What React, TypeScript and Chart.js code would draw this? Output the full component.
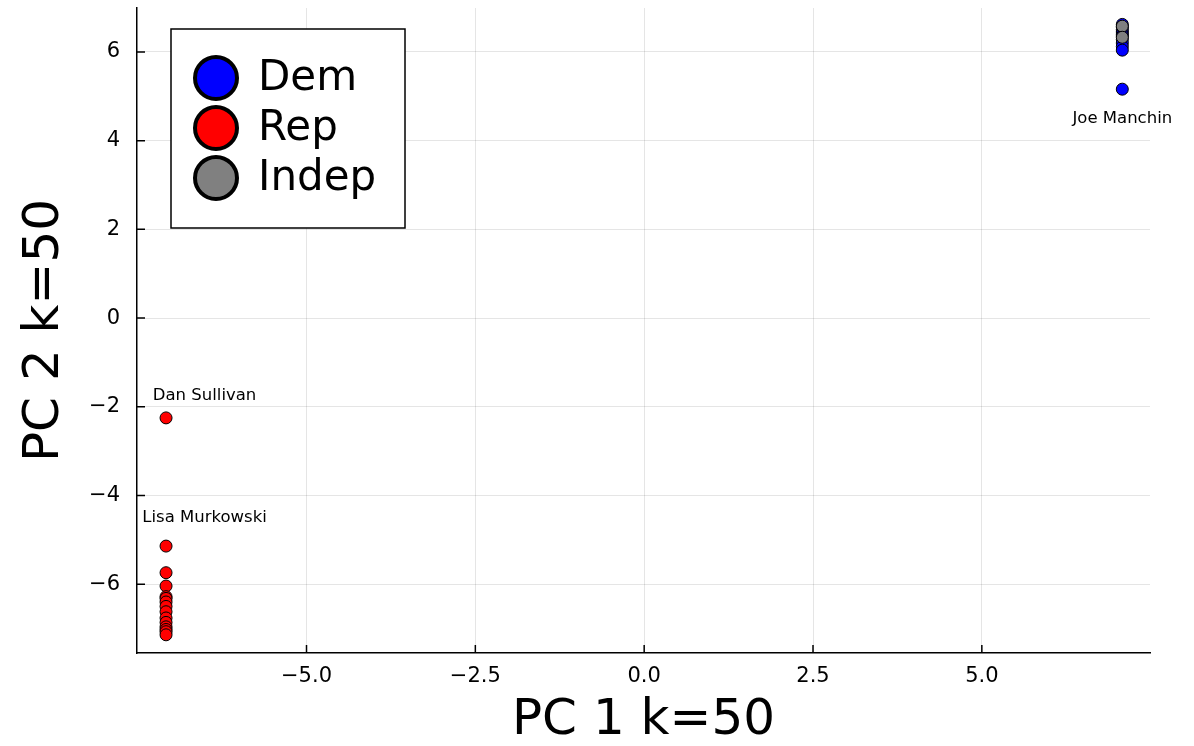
import React, { useEffect, useRef } from "react";
import { Chart, registerables } from "chart.js";

Chart.register(...registerables);

// ---- data ----
const seriesNames = ["Dem", "Rep", "Indep"];
const seriesColors = ["#0000ff", "#ff0000", "#808080"];

const demPC1 = [7.08, 7.08, 7.08, 7.08, 7.08, 7.08, 7.08, 7.08, 7.08, 7.08, 7.08];
const demPC2 = [6.62, 6.56, 6.5, 6.45, 6.4, 6.36, 6.28, 6.2, 6.12, 6.04, 5.16];

const repPC1 = [-7.08, -7.08, -7.08, -7.08, -7.08, -7.08, -7.08, -7.08, -7.08, -7.08, -7.08, -7.08, -7.08, -7.08, -7.08];
const repPC2 = [-2.25, -5.14, -5.74, -6.04, -6.28, -6.32, -6.4, -6.5, -6.62, -6.76, -6.86, -6.96, -7.02, -7.07, -7.14];

const indPC1 = [7.08, 7.08];
const indPC2 = [6.58, 6.33];

const annotationTexts = ["Joe Manchin", "Dan Sullivan", "Lisa Murkowski"];
const annotationX = [7.08, -6.51, -6.51];
const annotationY = [4.49, -1.76, -4.51];

const xTickValues = [-5, -2.5, 0, 2.5, 5];
const yTickValues = [-6, -4, -2, 0, 2, 4, 6];

const xTitle = "PC 1 k=50";
const yTitle = "PC 2 k=50";

const FONT = "DejaVu Sans";

const minus = (s: string) => s.replace("-", "\u2212");

const toPoints = (xs: number[], ys: number[]) => xs.map((x, i) => ({ x, y: ys[i] }));

const innerTicksPlugin = {
  id: "innerTicks",
  beforeDatasetsDraw(chart: any) {
    const { ctx, chartArea, scales } = chart;
    ctx.save();
    ctx.strokeStyle = "#000";
    ctx.lineWidth = 1.5;
    ctx.beginPath();
    for (const v of xTickValues) {
      const px = scales.x.getPixelForValue(v);
      ctx.moveTo(px, chartArea.bottom);
      ctx.lineTo(px, chartArea.bottom - 8);
    }
    for (const v of yTickValues) {
      const py = scales.y.getPixelForValue(v);
      ctx.moveTo(chartArea.left, py);
      ctx.lineTo(chartArea.left + 8, py);
    }
    ctx.stroke();
    ctx.restore();
  },
};

const annotationsPlugin = {
  id: "nameLabels",
  afterDatasetsDraw(chart: any) {
    const { ctx, scales } = chart;
    ctx.save();
    ctx.fillStyle = "#000";
    ctx.font = `16.5px "${FONT}"`;
    ctx.textAlign = "center";
    ctx.textBaseline = "middle";
    annotationTexts.forEach((t, i) => {
      ctx.fillText(t, scales.x.getPixelForValue(annotationX[i]), scales.y.getPixelForValue(annotationY[i]));
    });
    ctx.restore();
  },
};

const legendPlugin = {
  id: "boxLegend",
  afterDraw(chart: any) {
    const { ctx, chartArea } = chart;
    const left = chartArea.left + 34;
    const top = chartArea.top + 21;
    const w = 234;
    const h = 199;
    ctx.save();
    ctx.fillStyle = "#fff";
    ctx.fillRect(left, top, w, h);
    ctx.strokeStyle = "#000";
    ctx.lineWidth = 1.5;
    ctx.strokeRect(left, top, w, h);
    chart.data.datasets.forEach((ds: any, i: number) => {
      const cx = left + 45;
      const cy = top + 49 + i * 50;
      ctx.beginPath();
      ctx.arc(cx, cy, 21, 0, Math.PI * 2);
      ctx.fillStyle = ds.backgroundColor;
      ctx.fill();
      ctx.lineWidth = 4;
      ctx.strokeStyle = "#000";
      ctx.stroke();
      ctx.fillStyle = "#000";
      ctx.font = `42px "${FONT}"`;
      ctx.textAlign = "left";
      ctx.textBaseline = "middle";
      ctx.fillText(ds.label, left + 87, cy + 1);
    });
    ctx.restore();
  },
};

export default function App() {
  const canvasRef = useRef<HTMLCanvasElement | null>(null);

  useEffect(() => {
    document.body.style.margin = "0";
    const canvas = canvasRef.current;
    if (!canvas) return;
    const seriesData = [toPoints(demPC1, demPC2), toPoints(repPC1, repPC2), toPoints(indPC1, indPC2)];
    const orders = [3, 2, 1];
    const chart = new Chart(canvas, {
      type: "scatter",
      data: {
        datasets: seriesNames.map((name, i) => ({
          label: name,
          data: seriesData[i],
          backgroundColor: seriesColors[i],
          borderColor: "#000",
          borderWidth: 1,
          pointRadius: 6,
          pointHoverRadius: 6,
          order: orders[i],
        })),
      },
      options: {
        responsive: false,
        animation: false,
        devicePixelRatio: 1,
        layout: { padding: { top: 8, right: 44, left: 0, bottom: 0 } },
        plugins: {
          legend: { display: false },
          tooltip: { enabled: false },
        },
        scales: {
          x: {
            type: "linear",
            min: -7.51,
            max: 7.49,
            afterBuildTicks: (scale: any) => {
              scale.ticks = xTickValues.map((v) => ({ value: v }));
            },
            afterFit: (scale: any) => {
              scale.height = 93;
              scale.paddingLeft = 0;
              scale.paddingRight = 0;
              scale.paddingTop = 0;
              scale.paddingBottom = 0;
            },
            ticks: {
              color: "#000",
              font: { family: FONT, size: 21 },
              padding: 11,
              maxRotation: 0,
              autoSkip: false,
              callback: (v: any) => minus(Number(v).toFixed(1)),
            },
            grid: { color: "rgba(0,0,0,0.1)", lineWidth: 1, drawTicks: false },
            border: { display: true, color: "#000", width: 1.5 },
            title: {
              display: true,
              text: xTitle,
              color: "#000",
              font: { family: FONT, size: 50, lineHeight: 1 },
              padding: { top: 0, bottom: 0 },
            },
          },
          y: {
            type: "linear",
            min: -7.55,
            max: 6.99,
            afterBuildTicks: (scale: any) => {
              scale.ticks = yTickValues.map((v) => ({ value: v }));
            },
            afterFit: (scale: any) => {
              scale.width = 137;
              scale.paddingLeft = 0;
              scale.paddingRight = 0;
              scale.paddingTop = 0;
              scale.paddingBottom = 0;
            },
            ticks: {
              color: "#000",
              font: { family: FONT, size: 21 },
              padding: 17,
              autoSkip: false,
              callback: (v: any) => minus(String(Number(v))),
            },
            grid: { color: "rgba(0,0,0,0.1)", lineWidth: 1, drawTicks: false },
            border: { display: true, color: "#000", width: 1.5 },
            title: {
              display: true,
              text: yTitle,
              color: "#000",
              font: { family: FONT, size: 50, lineHeight: 1 },
              padding: { top: 20, bottom: 0 },
            },
          },
        },
      },
      plugins: [innerTicksPlugin, annotationsPlugin, legendPlugin],
    });
    return () => chart.destroy();
  }, []);

  return (
    <div style={{ position: "absolute", left: 0, top: 0, width: 1194, height: 746, background: "#fff" }}>
      <canvas ref={canvasRef} width={1194} height={746} style={{ display: "block", width: 1194, height: 746 }} />
    </div>
  );
}
